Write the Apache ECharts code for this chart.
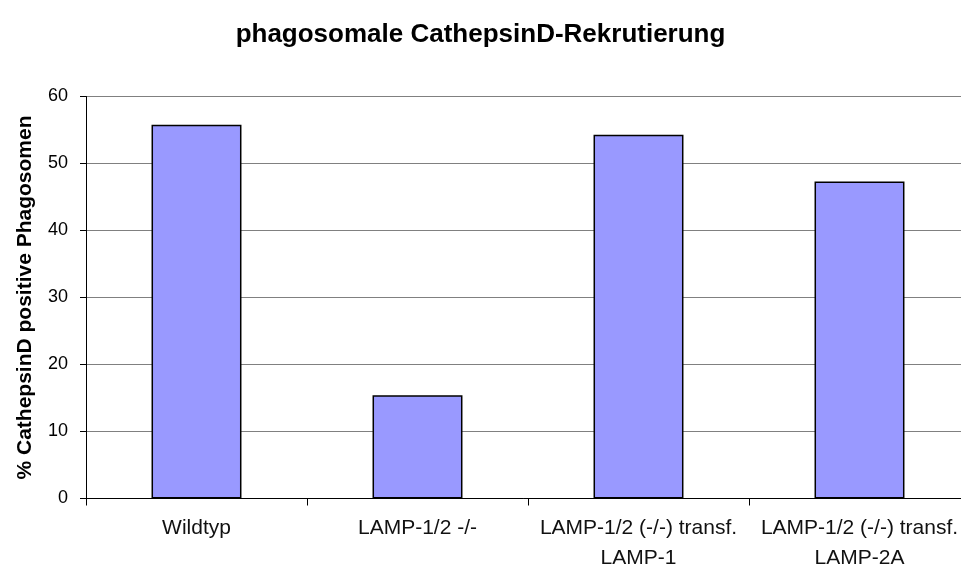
<!DOCTYPE html>
<html>
<head>
<meta charset="utf-8">
<script src="https://cdn.jsdelivr.net/npm/echarts@6/dist/echarts.min.js"></script>
<style>
  html, body { margin: 0; padding: 0; background: #ffffff; }
  #chart { width: 961px; height: 568px; }
</style>
</head>
<body>
<div id="chart"></div>
<script>
// Phagosomal cathepsin D recruitment per cell line
const categories = [
  'Wildtyp',
  'LAMP-1/2 -/-',
  'LAMP-1/2 (-/-) transf.\nLAMP-1',
  'LAMP-1/2 (-/-) transf.\nLAMP-2A'
];
const positivePhagosomes = [55.8, 15.4, 54.3, 47.3];
const yTicks = [0, 10, 20, 30, 40, 50, 60];

const chart = echarts.init(document.getElementById('chart'), null, { renderer: 'canvas' });

chart.setOption({
  backgroundColor: '#ffffff',
  animation: false,
  title: {
    text: 'phagosomale CathepsinD-Rekrutierung',
    left: 'center',
    top: 17,
    textStyle: {
      fontFamily: 'Liberation Sans, Arial, sans-serif',
      fontSize: 26,
      fontWeight: 'bold',
      color: '#000000'
    }
  },
  grid: {
    left: 86,
    top: 96.5,
    width: 884,
    height: 402,
    containLabel: false,
    outerBoundsMode: 'none'
  },
  xAxis: {
    type: 'category',
    data: categories,
    axisLine: { lineStyle: { color: '#000000', width: 1 } },
    axisTick: { show: true, length: 7, alignWithLabel: false, lineStyle: { color: '#000000' } },
    axisLabel: {
      interval: 0,
      margin: 15,
      fontFamily: 'Liberation Sans, Arial, sans-serif',
      fontSize: 21,
      lineHeight: 30,
      color: '#111111'
    },
    splitLine: { show: false }
  },
  yAxis: {
    type: 'value',
    min: yTicks[0],
    max: yTicks[yTicks.length - 1],
    interval: 10,
    name: '% CathepsinD positive Phagosomen',
    nameLocation: 'middle',
    nameGap: 50,
    nameRotate: 90,
    nameTextStyle: {
      fontFamily: 'Liberation Sans, Arial, sans-serif',
      fontSize: 21,
      fontWeight: 'bold',
      color: '#000000'
    },
    axisLine: { show: true, lineStyle: { color: '#000000', width: 1 } },
    axisTick: { show: true, length: 6, inside: false, lineStyle: { color: '#000000' } },
    axisLabel: {
      margin: 18,
      fontFamily: 'Liberation Sans, Arial, sans-serif',
      fontSize: 18,
      color: '#000000'
    },
    splitLine: { show: true, lineStyle: { color: '#808080', width: 1 } }
  },
  series: [{
    type: 'bar',
    data: positivePhagosomes,
    barWidth: '40.7%',
    itemStyle: {
      color: '#9999ff',
      borderColor: '#000000',
      borderWidth: 1.5
    }
  }]
});
</script>
</body>
</html>
